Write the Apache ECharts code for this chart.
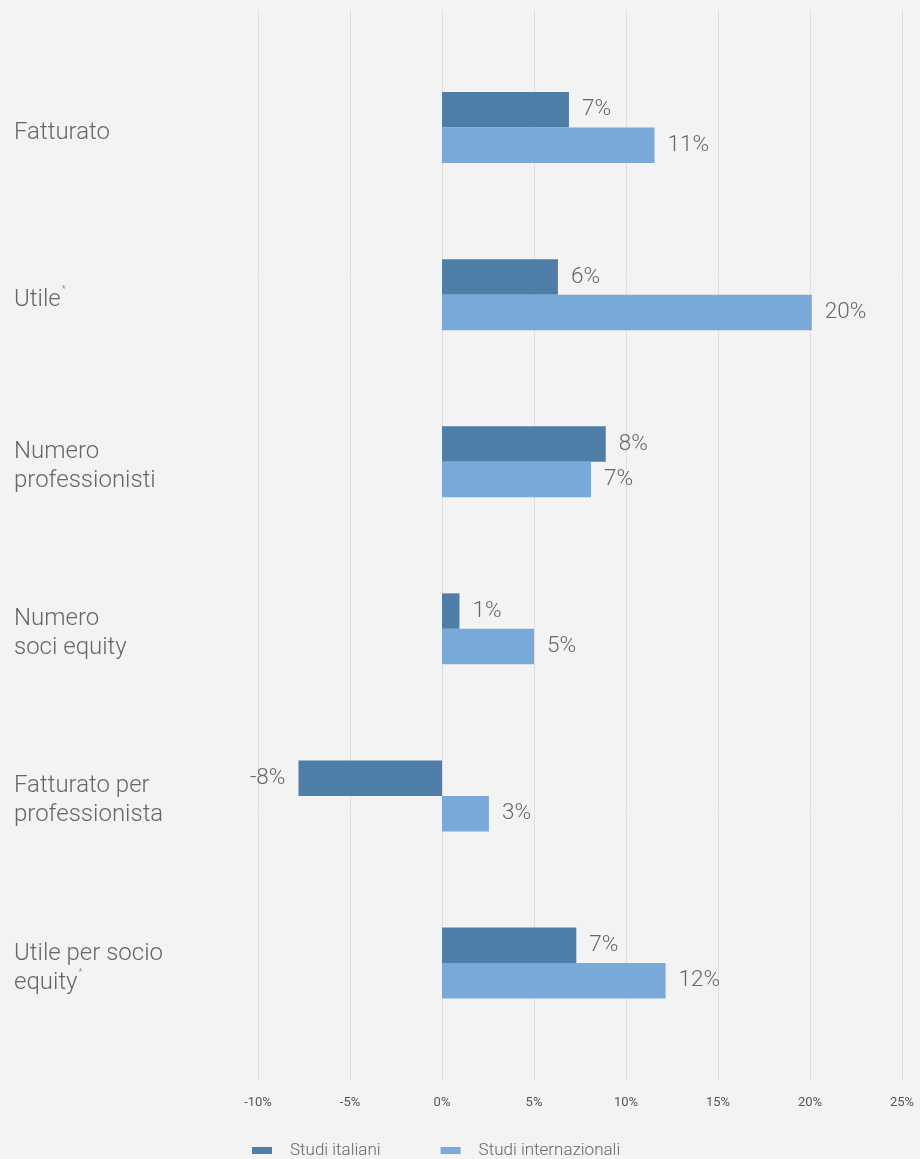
<!DOCTYPE html>
<html>
<head>
<meta charset="utf-8">
<script src="https://cdn.jsdelivr.net/npm/echarts@6/dist/echarts.min.js"></script>
<style>
html,body{margin:0;padding:0;background:#f3f3f3;}
#chart{width:920px;height:1159px;}
</style>
</head>
<body>
<div id="chart"></div>
<script>
const categories = ['Fatturato', 'Utile*', 'Numero\nprofessionisti', 'Numero\nsoci equity', 'Fatturato per\nprofessionista', 'Utile per socio\nequity*'];
const seriesNames = ['Studi italiani', 'Studi internazionali'];
const italiani = [6.9, 6.3, 8.9, 0.95, -7.8, 7.3];
const internazionali = [11.55, 20.1, 8.1, 5.0, 2.55, 12.15];
const italianiLabels = ['7%', '6%', '8%', '1%', '-8%', '7%'];
const internazionaliLabels = ['11%', '20%', '7%', '5%', '3%', '12%'];
const xMin = -10, xMax = 25, xStep = 5;

const colors = ['#4e7ea8', '#79a9d9'];
const textColor = '#666666';

function makeData(values, labels) {
  return values.map((v, i) => ({
    value: v,
    label: { position: v < 0 ? 'left' : 'right', formatter: labels[i] }
  }));
}

const chart = echarts.init(document.getElementById('chart'));
const labelStyle = {
  show: true,
  distance: 13,
  color: textColor,
  fontFamily: 'Roboto',
  fontWeight: 300,
  fontSize: 22.5
};

chart.setOption({
  backgroundColor: '#f3f3f3',
  animation: false,
  legend: {
    data: seriesNames,
    left: 247,
    top: 1137,
    icon: 'rect',
    itemWidth: 20,
    itemHeight: 7,
    itemGap: 60,
    textStyle: { color: textColor, fontFamily: 'Roboto', fontWeight: 300, fontSize: 17, padding: [0, 0, 0, 13] }
  },
  grid: [
    { left: 258, right: 18, top: 44, height: 1002.6 },
    { left: 258, right: 18, top: 10, bottom: 79 }
  ],
  xAxis: [
    { gridIndex: 0, type: 'value', min: xMin, max: xMax, interval: xStep, show: false },
    {
      gridIndex: 1, type: 'value', min: xMin, max: xMax, interval: xStep,
      axisLine: { show: false }, axisTick: { show: false },
      splitLine: { show: true, lineStyle: { color: '#dfdfdf', width: 1 } },
      axisLabel: { formatter: '{value}%', color: '#555555', fontFamily: 'Roboto', fontSize: 13, margin: 16 }
    }
  ],
  yAxis: [
    {
      gridIndex: 0, type: 'category', data: categories, inverse: true,
      axisLine: { show: false }, axisTick: { show: false }, splitLine: { show: false },
      axisLabel: {
        align: 'left', margin: 244, color: textColor, fontFamily: 'Roboto', fontWeight: 300,
        fontSize: 24, lineHeight: 29, padding: [10, 0, 0, 0],
        formatter: v => v.replace('*', '{s|*}'),
        rich: { s: { fontSize: 9, color: textColor, fontFamily: 'Roboto', verticalAlign: 'top', padding: [0, 0, 10, 1] } }
      }
    },
    { gridIndex: 1, type: 'value', show: false, min: 0, max: 1 }
  ],
  series: [
    {
      name: seriesNames[0], type: 'bar', xAxisIndex: 0, yAxisIndex: 0,
      data: makeData(italiani, italianiLabels), itemStyle: { color: colors[0] },
      barWidth: 35.5, barGap: '0%', label: labelStyle
    },
    {
      name: seriesNames[1], type: 'bar', xAxisIndex: 0, yAxisIndex: 0,
      data: makeData(internazionali, internazionaliLabels), itemStyle: { color: colors[1] },
      barWidth: 35.5, barGap: '0%', label: labelStyle
    }
  ]
});
</script>
</body>
</html>
